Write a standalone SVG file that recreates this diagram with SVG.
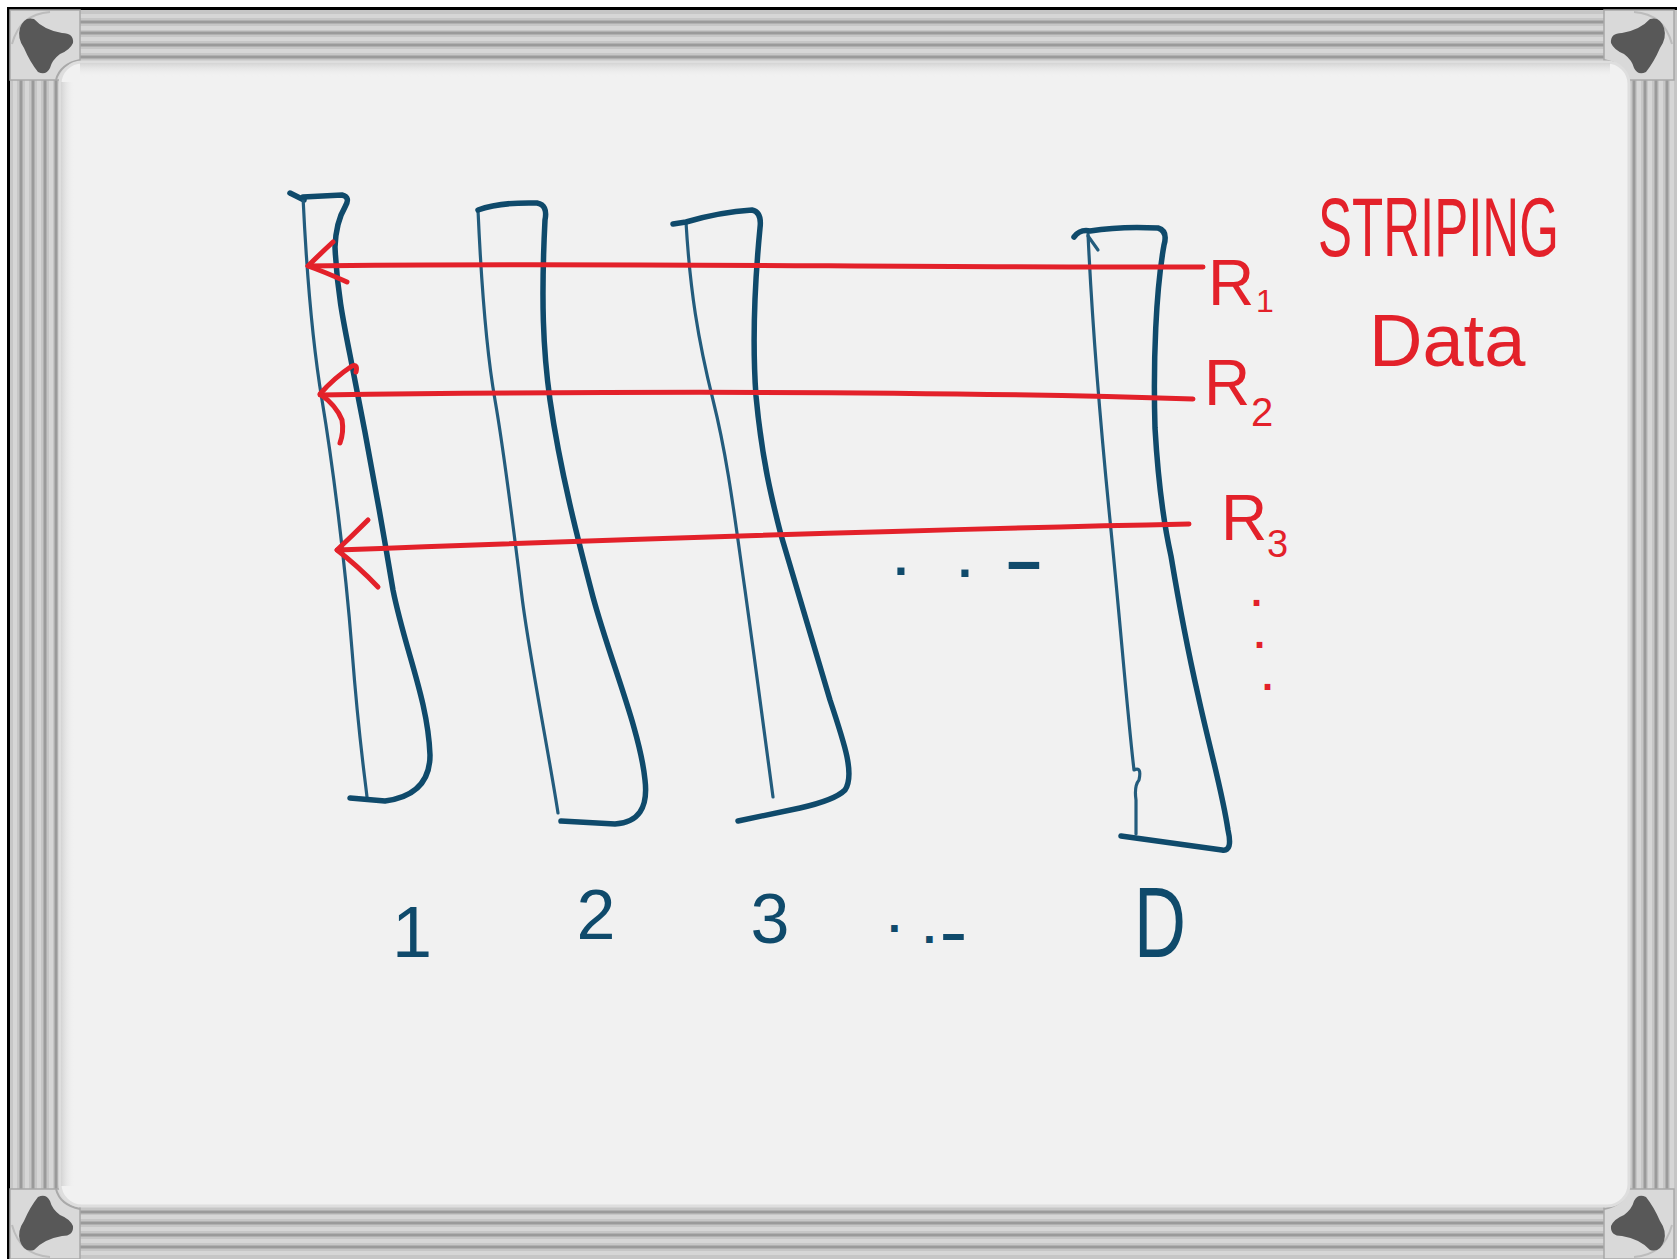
<svg xmlns="http://www.w3.org/2000/svg" width="1677" height="1259" viewBox="0 0 1677 1259">
<defs>
<style>
.blue{fill:none;stroke:#0f4a6b;stroke-width:5.5;stroke-linecap:round;stroke-linejoin:round}
.thin{fill:none;stroke:#235c7d;stroke-width:3.2;stroke-linecap:round;stroke-linejoin:round}
.red{fill:none;stroke:#e3212a;stroke-width:5;stroke-linecap:round;stroke-linejoin:round}
.rt{fill:#e3212a;font-family:"Liberation Sans",Arial,sans-serif}
.bt{fill:#0f4a6b;font-family:"Liberation Sans",Arial,sans-serif}
.dk{stroke:#9a9a9a;stroke-width:3}
.hl{stroke:#d6d6d6;stroke-width:4}
</style>
<linearGradient id="shadeT" x1="0" y1="0" x2="0" y2="1"><stop offset="0" stop-color="#d4d4d4"/><stop offset="1" stop-color="#f1f1f1" stop-opacity="0"/></linearGradient>
<linearGradient id="shadeL" x1="0" y1="0" x2="1" y2="0"><stop offset="0" stop-color="#d4d4d4"/><stop offset="1" stop-color="#f1f1f1" stop-opacity="0"/></linearGradient>
<g id="cornerShape">
<rect x="10" y="10" width="70" height="70" fill="#d9d9d9" stroke="#a8a8a8" stroke-width="1.5"/>
<path d="M12,44 Q20,14 50,12" fill="none" stroke="#bcbcbc" stroke-width="2"/>
<path d="M56,80 Q60,64 80,60" fill="none" stroke="#a9a9a9" stroke-width="2"/>
<path d="M20,28 Q24,16 34,19 Q44,30 62,33 Q74,33 73,43 Q70,50 60,54 Q52,60 50,68 Q46,76 38,72 Q30,62 24,48 Q17,38 20,28 Z" fill="#585858"/>
</g>
</defs>

<g id="frame">
<rect x="0" y="0" width="1677" height="1259" fill="#ffffff"/>
<rect x="10" y="10" width="1667" height="1249" fill="#c6c6c6"/>
<rect x="7" y="7" width="1670" height="3" fill="#000"/>
<rect x="7" y="7" width="3" height="1252" fill="#000"/>
<g class="hl">
<line x1="80" y1="16" x2="1604" y2="16"/><line x1="80" y1="28" x2="1604" y2="28"/><line x1="80" y1="39" x2="1604" y2="39"/><line x1="80" y1="51" x2="1604" y2="51"/>
<line x1="80" y1="1217" x2="1604" y2="1217"/><line x1="80" y1="1229" x2="1604" y2="1229"/><line x1="80" y1="1241" x2="1604" y2="1241"/><line x1="80" y1="1253" x2="1604" y2="1253"/>
<line x1="15" y1="80" x2="15" y2="1189"/><line x1="27" y1="80" x2="27" y2="1189"/><line x1="39" y1="80" x2="39" y2="1189"/><line x1="51" y1="80" x2="51" y2="1189"/>
<line x1="1639" y1="80" x2="1639" y2="1189"/><line x1="1650" y1="80" x2="1650" y2="1189"/><line x1="1661" y1="80" x2="1661" y2="1189"/><line x1="1672" y1="80" x2="1672" y2="1189"/>
</g>
<g class="dk">
<line x1="80" y1="22" x2="1604" y2="22"/><line x1="80" y1="33" x2="1604" y2="33"/><line x1="80" y1="45" x2="1604" y2="45"/><line x1="80" y1="57" x2="1604" y2="57"/>
<line x1="80" y1="1212" x2="1604" y2="1212"/><line x1="80" y1="1223" x2="1604" y2="1223"/><line x1="80" y1="1235" x2="1604" y2="1235"/><line x1="80" y1="1247" x2="1604" y2="1247"/>
<line x1="21" y1="80" x2="21" y2="1189"/><line x1="33" y1="80" x2="33" y2="1189"/><line x1="45" y1="80" x2="45" y2="1189"/><line x1="56" y1="80" x2="56" y2="1189"/>
<line x1="1634" y1="80" x2="1634" y2="1189"/><line x1="1645" y1="80" x2="1645" y2="1189"/><line x1="1656" y1="80" x2="1656" y2="1189"/><line x1="1667" y1="80" x2="1667" y2="1189"/>
</g>
<use href="#cornerShape"/>
<use href="#cornerShape" transform="translate(1684,0) scale(-1,1)"/>
<use href="#cornerShape" transform="translate(0,1269) scale(1,-1)"/>
<use href="#cornerShape" transform="translate(1684,1269) scale(-1,-1)"/>
<rect x="60" y="62" width="1569" height="1144" rx="22" fill="#f1f1f1" stroke="#dedede" stroke-width="3"/>
<rect x="80" y="63" width="1530" height="14" fill="url(#shadeT)"/>
<rect x="61" y="82" width="14" height="1104" fill="url(#shadeL)"/>
</g>

<g id="col-1">
<path class="blue" d="M290,193 L304,200"/>
<path class="thin" d="M303,197 C306,260 312,340 322,400 S345,560 352,650 S364,770 367,797"/>
<path class="blue" d="M303,197 L342,195 Q351,197 345,207 Q336,222 335,247 C337,290 343,320 350,355 C363,420 378,500 393,590 C405,650 428,700 430,755 Q430,795 385,801 L350,798"/>
</g>

<g id="col-2">
<path class="thin" d="M478,210 C482,300 488,360 495,400 S515,540 522,597 S550,760 558,813"/>
<path class="blue" d="M478,210 Q500,202 537,203 Q548,205 545,220 C541,300 543,350 550,400 C560,470 578,540 593,597 C610,660 640,730 645,780 Q650,822 615,824 L561,821"/>
</g>

<g id="col-3">
<path class="thin" d="M686,222 C690,290 698,340 713,400 S735,520 745,590 S765,740 773,797"/>
<path class="blue" d="M673,224 L686,222 Q720,212 752,210 Q762,212 760,228 C755,280 752,340 756,396 C762,460 772,500 781,535 C800,600 815,650 830,700 C845,745 855,775 845,790 Q835,800 800,808 L738,821"/>
</g>

<g id="col-D">
<path class="thin" d="M1088,234 C1092,320 1100,420 1110,520 S1128,720 1134,770 Q1142,766 1139,780 Q1134,786 1136,800 L1136,834"/>
<path class="thin" d="M1088,236 L1098,250"/>
<path class="blue" d="M1074,237 Q1080,229 1090,231 Q1120,226 1158,228 Q1168,231 1164,245 C1156,290 1153,360 1155,428 C1158,480 1163,520 1171,556 C1180,610 1190,660 1198,695 C1210,750 1222,790 1228,830 Q1233,852 1222,850 L1121,836"/>
</g>

<g id="connectors">
<path class="red" d="M1203,267 C900,268 600,262 308,266"/>
<path class="red" d="M333,242 Q320,254 308,266 Q325,272 347,282"/>
<path class="red" d="M1193,399 C1000,393 700,390 320,395"/>
<path class="red" d="M356,372 Q358,364 352,366 Q334,378 320,394 Q336,405 342,420 Q344,432 340,443"/>
<path class="red" d="M1189,524 C900,530 600,540 337,550"/>
<path class="red" d="M368,520 Q352,536 337,550 Q358,566 378,587"/>
</g>

<g id="label-striping">
<text class="rt" transform="translate(1318,256) scale(1,1.65)" x="0" y="0" font-size="51">STRIPING</text>
<text class="rt" x="1369" y="366" font-size="74">Data</text>
</g>

<g id="label-R1"><text class="rt"><tspan x="1208" y="305" font-size="64">R</tspan><tspan x="1256" y="312" font-size="32">1</tspan></text></g>
<g id="label-R2"><text class="rt"><tspan x="1204" y="405" font-size="64">R</tspan><tspan x="1251" y="426" font-size="40">2</tspan></text></g>
<g id="label-R3"><text class="rt"><tspan x="1221" y="540" font-size="64">R</tspan><tspan x="1267" y="557" font-size="38">3</tspan></text></g>
<g id="label-rdots"><text class="rt" font-size="40" font-weight="bold"><tspan x="1251" y="606">.</tspan><tspan x="1254" y="648">.</tspan><tspan x="1262" y="690">.</tspan></text></g>

<g id="label-mdots"><text class="bt" font-weight="bold"><tspan x="894" y="575" font-size="50">.</tspan><tspan x="958" y="577" font-size="50">.</tspan><tspan x="1004" y="581" font-size="60" textLength="40" lengthAdjust="spacingAndGlyphs">-</tspan></text></g>

<g id="label-1"><text class="bt" x="412" y="957" font-size="72" text-anchor="middle">1</text></g>
<g id="label-2"><text class="bt" x="596" y="939" font-size="70" text-anchor="middle">2</text></g>
<g id="label-3"><text class="bt" x="770" y="943" font-size="70" text-anchor="middle">3</text></g>
<g id="label-dots"><text class="bt" font-weight="bold"><tspan x="888" y="932" font-size="46">.</tspan><tspan x="923" y="943" font-size="46">.</tspan><tspan x="940" y="950" font-size="50" textLength="27" lengthAdjust="spacingAndGlyphs">-</tspan></text></g>
<g id="label-D"><text class="bt" transform="translate(1134,957) scale(0.72,1)" x="0" y="0" font-size="100">D</text></g>
</svg>
